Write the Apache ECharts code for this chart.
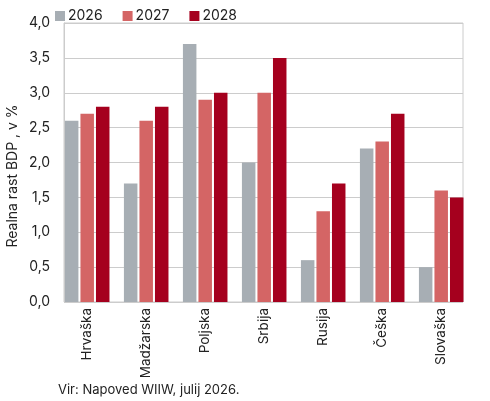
<!DOCTYPE html>
<html>
<head>
<meta charset="utf-8">
<script src="https://cdn.jsdelivr.net/npm/echarts@6/dist/echarts.min.js"></script>
<style>
  html, body { margin: 0; padding: 0; background: #fff; }
  #main { width: 490px; height: 401px; }
</style>
</head>
<body>
<div id="main"></div>
<script>
var countries = ["Hrvaška", "Madžarska", "Poljska", "Srbija", "Rusija", "Češka", "Slovaška"];
var years = ["2026", "2027", "2028"];
var rast2026 = [2.6, 1.7, 3.7, 2.0, 0.6, 2.2, 0.5];
var rast2027 = [2.7, 2.6, 2.9, 3.0, 1.3, 2.3, 1.6];
var rast2028 = [2.8, 2.8, 3.0, 3.5, 1.7, 2.7, 1.5];
var colors = ["#a7aeb4", "#d46565", "#a5001e"];

var font = "Inter, 'Noto Sans', sans-serif";
var txtCol = "#222";
var gridCol = "#cccccc";

var chartDom = document.getElementById("main");
var myChart = echarts.init(chartDom);

function bar(name, data, c) {
  return {
    name: name,
    type: "bar",
    xAxisIndex: 0,
    yAxisIndex: 0,
    data: data,
    barWidth: 13.5,
    barGap: "15%",
    itemStyle: { color: c },
    z: 3
  };
}

var option = {
  animation: false,
  textStyle: { fontFamily: font },
  legend: {
    top: 4,
    left: 50,
    itemWidth: 10,
    itemHeight: 10,
    itemGap: 20,
    icon: "rect",
    textStyle: { fontSize: 14, color: txtCol, padding: [0, 0, 0, -2] },
    data: years
  },
  // grid 0 carries the bars, grid 1 draws the frame and value axis
  grid: [
    { left: 57.7, right: 19.3, top: 23, bottom: 99 },
    { left: 64, right: 27, top: 23, bottom: 99, show: true, borderColor: gridCol, borderWidth: 1, z: 0 }
  ],
  xAxis: [
    {
      type: "category",
      gridIndex: 0,
      data: countries,
      axisLine: { show: false },
      axisTick: { show: false },
      axisLabel: { rotate: 90, fontSize: 13.5, color: txtCol, margin: 6 }
    },
    { type: "value", gridIndex: 1, show: false, min: 0, max: 1 }
  ],
  yAxis: [
    { type: "value", gridIndex: 0, min: 0, max: 4, show: false },
    {
      type: "value",
      gridIndex: 1,
      min: 0,
      max: 4,
      interval: 0.5,
      axisLine: { show: true, lineStyle: { color: gridCol } },
      axisTick: { show: false },
      axisLabel: {
        fontSize: 14,
        color: txtCol,
        margin: 14,
        formatter: function (v) { return v.toFixed(1).replace(".", ","); }
      },
      splitLine: { show: true, lineStyle: { color: gridCol, width: 1 } }
    }
  ],
  graphic: [
    {
      type: "text",
      x: 12.5,
      y: 176,
      rotation: Math.PI / 2,
      style: {
        text: "Realna rast BDP , v %",
        fontSize: 14,
        fill: txtCol,
        fontFamily: font,
        align: "center",
        verticalAlign: "middle"
      }
    },
    {
      type: "text",
      left: 58,
      top: 384,
      style: { text: "Vir: Napoved WIIW, julij 2026.", fontSize: 13, fill: txtCol, fontFamily: font }
    }
  ],
  series: [
    bar(years[0], rast2026, colors[0]),
    bar(years[1], rast2027, colors[1]),
    bar(years[2], rast2028, colors[2])
  ]
};
option && myChart.setOption(option);
</script>
</body>
</html>
